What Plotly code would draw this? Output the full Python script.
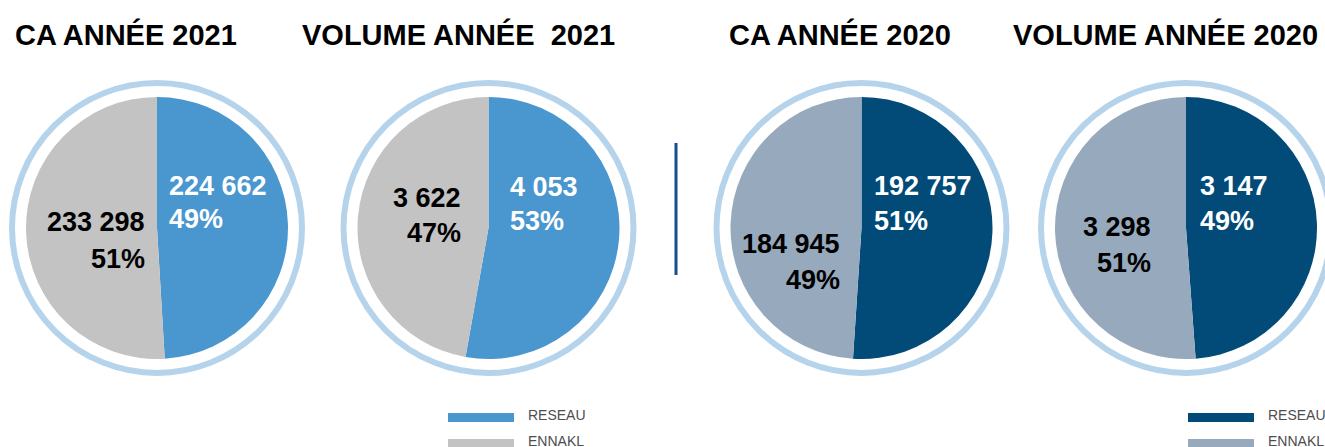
import plotly.graph_objects as go

W, H = 1325, 447

labels = ["RESEAU", "ENNAKL"]
titles = ["CA ANNÉE 2021", "VOLUME ANNÉE  2021", "CA ANNÉE 2020", "VOLUME ANNÉE 2020"]
ca_2021 = [224662, 233298]
volume_2021 = [4053, 3622]
ca_2020 = [192757, 184945]
volume_2020 = [3147, 3298]
series = [ca_2021, volume_2021, ca_2020, volume_2020]

colors_2021 = ["#4a96cf", "#c3c3c3"]
colors_2020 = ["#024a77", "#97a9bc"]
pie_colors = [colors_2021, colors_2021, colors_2020, colors_2020]
ring_color = "#b5d4ec"

# layout (pixel geometry)
centers_x = [157, 488.5, 861.5, 1186]
center_y = 228
R = 131
ring_r = 145
title_x = [126, 458, 840, 1165]
title_y = 35
text_dy = -1

# label placement per pie: (x, y line1, y line2) for RESEAU (left aligned) and ENNAKL (right aligned)
reseau_pos = [(167, 186.5, 219.5), (508, 187.5, 222), (872, 187, 222), (1198, 187, 222)]
ennakl_pos = [(147, 223.5, 260), (463, 198.5, 234), (842, 245, 281), (1153, 228, 264)]

FONT = "Liberation Sans, Arial, sans-serif"


def px(x):
    return x / W


def py(y):
    return 1 - y / H


def fmt(v):
    return f"{v:,}".replace(",", " ")


fig = go.Figure()
shapes = []
annotations = []

for i, vals in enumerate(series):
    cx = centers_x[i]
    fig.add_trace(go.Pie(
        labels=labels,
        values=vals,
        sort=False,
        direction="clockwise",
        rotation=0,
        textinfo="none",
        hoverinfo="none",
        showlegend=False,
        marker=dict(colors=pie_colors[i], line=dict(width=0)),
        domain=dict(x=[px(cx - R), px(cx + R)], y=[py(center_y + R), py(center_y - R)]),
    ))
    shapes.append(dict(
        type="circle", xref="paper", yref="paper",
        x0=px(cx - ring_r), x1=px(cx + ring_r),
        y0=py(center_y + ring_r), y1=py(center_y - ring_r),
        line=dict(color=ring_color, width=6), fillcolor="rgba(0,0,0,0)", layer="below",
    ))
    annotations.append(dict(
        text=f"<b>{titles[i]}</b>", x=px(title_x[i]), y=py(title_y), xref="paper", yref="paper",
        showarrow=False, xanchor="center", yanchor="middle",
        font=dict(family=FONT, size=29, color="#000000"),
    ))
    total = sum(vals)
    pcts = [round(v * 100 / total) for v in vals]
    rx, ry1, ry2 = reseau_pos[i]
    for txt, yy in ((fmt(vals[0]), ry1), (f"{pcts[0]}%", ry2)):
        annotations.append(dict(
            text=f"<b>{txt}</b>", x=px(rx), y=py(yy + text_dy), xref="paper", yref="paper",
            showarrow=False, xanchor="left", yanchor="middle",
            font=dict(family=FONT, size=27, color="#ffffff"),
        ))
    ex, ey1, ey2 = ennakl_pos[i]
    for txt, yy in ((fmt(vals[1]), ey1), (f"{pcts[1]}%", ey2)):
        annotations.append(dict(
            text=f"<b>{txt}</b>", x=px(ex), y=py(yy + text_dy), xref="paper", yref="paper",
            showarrow=False, xanchor="right", yanchor="middle",
            font=dict(family=FONT, size=27, color="#000000"),
        ))

# divider line
shapes.append(dict(type="line", xref="paper", yref="paper",
                   x0=px(676), x1=px(676), y0=py(143), y1=py(275),
                   line=dict(color="#1d4a94", width=3)))

# manual legends (wide bar keys)
legend_x = [448, 1188]
legend_colors = [colors_2021, colors_2020]
legend_rows = [417.5, 443.5]
for lx, cols in zip(legend_x, legend_colors):
    for k, lab in enumerate(labels):
        yy = legend_rows[k]
        shapes.append(dict(type="rect", xref="paper", yref="paper",
                           x0=px(lx), x1=px(lx + 66), y0=py(yy + 4.5), y1=py(yy - 4.5),
                           line=dict(width=0), fillcolor=cols[k]))
        annotations.append(dict(
            text=lab, x=px(lx + 78), y=py(yy - 2.5), xref="paper", yref="paper",
            showarrow=False, xanchor="left", yanchor="middle",
            font=dict(family=FONT, size=14, color="#4d4d4d"),
        ))

fig.update_layout(
    width=W, height=H,
    margin=dict(l=0, r=0, t=0, b=0),
    paper_bgcolor="#ffffff", plot_bgcolor="#ffffff",
    shapes=shapes, annotations=annotations,
)

fig.write_html(
    "out.html",
    config={"displayModeBar": False},
    post_script="document.body.style.margin='0';document.body.style.padding='0';document.body.style.overflow='hidden';",
)
